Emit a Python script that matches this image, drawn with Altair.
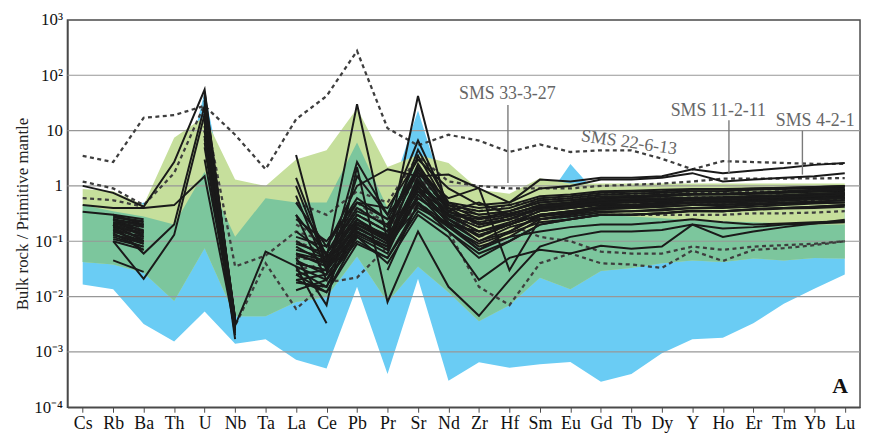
import altair as alt
import pandas as pd

elements = ["Cs", "Rb", "Ba", "Th", "U", "Nb", "Ta", "La", "Ce", "Pb", "Pr", "Sr", "Nd",
            "Zr", "Hf", "Sm", "Eu", "Gd", "Tb", "Dy", "Y", "Ho", "Er", "Tm", "Yb", "Lu"]

# Fields (lower / upper bounds, normalised to primitive mantle)
blue_lo = [0.0166, 0.0135, 0.0032, 0.00155, 0.0054, 0.0014, 0.0017, 0.00072, 0.0005, 0.015,
           0.0004, 0.021, 0.0003, 0.00065, 0.00052, 0.0006, 0.00066, 0.00029, 0.0004, 0.00095,
           0.0017, 0.0018, 0.0033, 0.0074, 0.0138, 0.025]
blue_hi = [0.35, 0.3, 0.5, 0.3, 50, 0.1, 0.4, 0.4, 0.4, 5, 0.5, 23, 0.4, 0.3, 0.3, 0.4, 2.5,
           0.6, 0.6, 0.6, 0.6, 0.6, 0.6, 0.6, 0.6, 0.6]
green_hi = [0.88, 0.8, 0.45, 7.4, 18, 1.3, 1.0, 3.0, 4.4, 25, 2.2, 3.6, 2.6, 0.85, 0.72, 1.38,
            1.1, 1.1, 1.1, 1.1, 1.1, 1.1, 1.1, 1.1, 1.1, 1.1]
mid_lo = [0.042, 0.038, 0.027, 0.0083, 0.075, 0.0044, 0.0044, 0.008, 0.0098, 0.053, 0.008,
          0.035, 0.012, 0.0036, 0.007, 0.022, 0.0135, 0.029, 0.033, 0.04, 0.045, 0.042, 0.049,
          0.045, 0.05, 0.049]
mid_hi = [0.45, 0.35, 0.28, 0.2, 1.8, 0.12, 0.6, 0.5, 0.5, 6.1, 0.4, 2.5, 0.4, 0.08, 0.12,
          0.2, 0.35, 0.3, 0.28, 0.26, 0.24, 0.23, 0.22, 0.21, 0.2, 0.2]

N = None
solid_samples = [
    [1.0, 0.75, 0.42, 2.7, 55, 0.003, N, 3.6, 0.03, 2.7, 0.3, 6.6, 0.45, 0.25, 0.35, 0.5, 0.55, 0.6, 0.62, 0.65, 0.7, 0.7, 0.72, 0.75, 0.78, 0.8],
    [N, 0.25, 0.2, N, 40, 0.004, N, 0.5, 0.08, 1.0, 2.0, 1.5, 1.6, 0.9, 0.5, 1.3, 1.2, 1.4, 1.4, 1.5, 2.0, 1.7, 1.9, 2.1, 2.4, 2.6],
    [N, 0.22, 0.15, N, 30, 0.003, N, 0.3, 0.06, 0.5, 0.4, 3.0, 0.9, 0.45, 0.5, 0.9, 1.0, 1.3, 1.3, 1.4, 1.7, 1.2, 1.3, 1.4, 1.5, 1.7],
    [0.45, 0.4, 0.4, 0.45, 1.5, 0.0025, N, 1.4, 0.05, 30, 0.1, 2.5, 0.35, 0.2, 0.25, 0.4, 0.45, 0.5, 0.5, 0.55, 0.6, 0.6, 0.62, 0.65, 0.7, 0.7],
    [0.34, 0.3, 0.2, N, 25, 0.003, N, 1.0, 0.04, 0.2, 0.1, 42, 0.3, 0.15, 0.2, 0.35, 0.4, 0.45, 0.45, 0.5, 0.55, 0.55, 0.58, 0.6, 0.62, 0.65],
    [N, 0.1, 0.021, 0.13, 20, 0.002, N, 0.67, 0.03, 0.15, 0.08, 1.5, 0.25, 0.1, 0.15, 0.3, 0.35, 0.4, 0.42, 0.45, 0.5, 0.5, 0.52, 0.55, 0.58, 0.6],
    [N, 0.045, 0.028, N, 15, 0.0017, N, 0.3, 0.02, 0.12, 0.06, 1.0, 0.2, 0.08, 0.12, 0.25, 0.3, 0.35, 0.35, 0.38, 0.4, 0.42, 0.45, 0.48, 0.5, 0.5],
    [N, 0.25, 0.12, N, 10, 0.003, 0.065, 0.035, 0.0033, N, 0.03, 0.5, 0.15, 0.06, 0.1, 0.2, 0.25, 0.3, 0.3, 0.32, 0.35, 0.35, 0.38, 0.4, 0.42, 0.45],
    [N, 0.2, 0.1, N, 35, 0.004, N, 0.05, 0.007, 2.2, 0.008, 0.15, 0.015, 0.0045, 0.02, 0.08, 0.12, 0.15, 0.15, 0.16, 0.2, 0.17, 0.18, 0.2, 0.21, 0.22],
    [N, 0.18, 0.14, N, 8, 0.003, N, 0.1, 0.05, 0.3, 0.15, 4.5, 0.5, 0.3, 0.35, 0.55, 0.6, 0.7, 0.72, 0.75, 0.8, 0.8, 0.85, 0.88, 0.9, 0.95],
    [N, 0.15, 0.1, N, 5, 0.0025, N, 0.08, 0.04, 0.25, 0.12, 0.8, 0.35, 0.5, 0.3, 0.45, 0.5, 0.6, 0.62, 0.65, 0.7, 0.7, 0.72, 0.75, 0.8, 0.85],
    [N, 0.12, 0.08, N, 45, 0.0035, N, 0.04, 0.03, 0.15, 0.07, 0.6, 0.25, 0.12, 0.2, 0.3, 0.35, 0.42, 0.45, 0.48, 0.5, 0.52, 0.55, 0.58, 0.6, 0.62],
    [N, 0.3, 0.25, N, 18, 0.004, N, 0.02, 0.025, 1.5, 0.3, 1.7, 0.6, 0.92, 0.03, 0.25, 0.3, 0.4, 0.42, 0.45, 0.5, 0.5, 0.52, 0.55, 0.6, 0.62],
    [N, 0.2, 0.06, 0.2, 28, 0.003, N, 0.013, 0.02, 0.1, 0.05, 0.35, 0.15, 0.05, 0.1, 0.2, 0.25, 0.3, 0.3, 0.32, 0.35, 0.35, 0.38, 0.4, 0.42, 0.45],
    [N, 0.25, 0.15, N, 22, 0.0035, N, 0.15, 0.06, 0.35, 0.2, 2.0, 0.4, 0.2, 0.25, 0.4, 0.45, 0.55, 0.55, 0.58, 0.6, 0.62, 0.65, 0.68, 0.72, 0.75],
    [N, 0.16, 0.12, N, 12, 0.003, N, 0.06, 0.035, 0.18, 0.09, 1.2, 0.28, 0.15, 0.22, 0.35, 0.4, 0.48, 0.5, 0.52, 0.55, 0.55, 0.6, 0.62, 0.65, 0.68],
    [N, 0.13, 0.09, N, 6, 0.0028, N, 0.25, 0.1, 0.5, 0.25, 0.5, 0.2, 0.07, 0.15, 0.28, 0.32, 0.38, 0.4, 0.42, 0.45, 0.46, 0.48, 0.5, 0.52, 0.55],
    [N, 0.22, 0.18, N, 3, 0.003, N, 0.03, 0.015, 0.2, 0.12, 0.9, 0.45, 0.35, 0.4, 0.6, 0.65, 0.75, 0.78, 0.8, 0.85, 0.85, 0.9, 0.92, 0.95, 1.0],
    [N, 0.14, 0.07, N, 10, 0.0022, N, 0.02, 0.012, 0.12, 0.04, 0.3, 0.12, 0.02, 0.05, 0.07, 0.06, 0.083, 0.073, 0.08, 0.2, 0.12, 0.15, 0.18, 0.21, 0.245],
    [N, 0.19, 0.13, N, 14, 0.003, N, 0.045, 0.025, 0.13, 0.07, 0.7, 0.18, 0.07, 0.12, 0.15, 0.18, 0.2, 0.2, 0.22, 0.25, 0.22, 0.2, 0.21, 0.22, 0.23],
    [N, 0.1, 0.07, N, 16, 0.0032, N, 0.07, 0.05, 0.25, 0.1, 1.1, 0.3, 0.25, 0.3, 0.45, 0.5, 0.6, 0.65, 0.7, 0.72, 0.72, 0.75, 0.78, 0.8, 0.85],
    [N, 0.27, 0.22, N, 20, 0.003, N, 0.025, 0.03, 0.22, 0.13, 0.8, 0.22, 0.1, 0.18, 0.25, 0.28, 0.33, 0.35, 0.36, 0.4, 0.4, 0.42, 0.45, 0.48, 0.5],
    [N, 0.17, 0.11, N, 25, 0.0028, N, 0.04, 0.03, 0.14, 0.08, 0.9, 0.25, 0.13, 0.2, 0.3, 0.35, 0.42, 0.44, 0.46, 0.5, 0.5, 0.52, 0.55, 0.57, 0.6],
    [N, 0.21, 0.16, N, 32, 0.0033, N, 0.06, 0.045, 0.3, 0.15, 1.8, 0.35, 0.22, 0.28, 0.4, 0.45, 0.52, 0.54, 0.56, 0.6, 0.6, 0.62, 0.65, 0.68, 0.7],
    [N, 0.24, 0.19, N, 42, 0.0036, N, 0.035, 0.02, 0.25, 0.1, 0.6, 0.3, 0.18, 0.25, 0.38, 0.42, 0.5, 0.52, 0.55, 0.58, 0.58, 0.6, 0.63, 0.66, 0.7],
    [N, 0.11, 0.08, N, 12, 0.0026, N, 0.09, 0.06, 0.4, 0.18, 3.5, 0.4, 0.3, 0.35, 0.5, 0.55, 0.65, 0.66, 0.68, 0.7, 0.72, 0.75, 0.8, 0.85, 0.9],
    [N, 0.16, 0.09, N, 18, 0.0031, N, 0.025, 0.012, 0.09, 0.05, 0.45, 0.18, 0.09, 0.14, 0.22, 0.25, 0.3, 0.3, 0.32, 0.36, 0.35, 0.37, 0.39, 0.4, 0.42],
    [N, 0.28, 0.23, N, 50, 0.0038, N, 0.12, 0.08, 0.6, 0.25, 2.2, 0.5, 0.4, 0.45, 0.65, 0.7, 0.8, 0.82, 0.85, 0.88, 0.88, 0.9, 0.93, 0.96, 1.0],
    [N, 0.13, 0.1, N, 7, 0.0024, N, 0.018, 0.015, 0.17, 0.09, 0.4, 0.2, 0.15, 0.2, 0.3, 0.33, 0.38, 0.4, 0.42, 0.45, 0.45, 0.47, 0.5, 0.52, 0.55],
    [N, 0.2, 0.14, N, 27, 0.003, N, 0.055, 0.04, 0.2, 0.11, 1.3, 0.33, 0.27, 0.32, 0.42, 0.48, 0.55, 0.58, 0.6, 0.62, 0.63, 0.66, 0.68, 0.72, 0.75],
]
dashed_samples = [
    [3.5, 2.7, 17, 19, 28, 8.4, 2.0, 16, 42, 275, 11, 5.4, 8.4, 6.6, 4.1, 5.6, 4.1, 4.4, 4.4, 3.1, 2.0, 2.8, 2.7, 2.6, 2.5, 2.5],
    [1.2, 0.9, 0.45, 1.7, 30, N, N, 0.5, 0.3, 0.8, 0.5, 3.5, 1.2, 1.0, 0.9, 0.9, 0.9, 1.0, 1.05, 1.1, 1.2, 1.35, 1.35, 1.36, 1.37, 1.38],
    [0.6, 0.55, 0.42, N, 25, 0.035, 0.055, 0.15, 0.1, 0.4, 0.2, 1.5, 0.4, 0.2, 0.3, 0.45, 0.5, 0.55, 0.55, 0.6, 0.62, 0.62, 0.65, 0.68, 0.7, 0.72],
    [N, 0.2, 0.15, N, 20, 0.003, 0.04, 0.006, 0.018, 0.022, 0.08, 0.5, 0.15, 0.015, 0.007, 0.04, 0.06, 0.04, 0.038, 0.033, 0.068, 0.044, 0.07, 0.075, 0.085, 0.1],
    [N, 0.2, 0.18, N, 15, 0.003, N, 0.1, 0.06, 0.3, 0.15, 1.0, 0.3, 0.12, 0.2, 0.12, 0.1, 0.065, 0.06, 0.06, 0.08, 0.07, 0.08, 0.085, 0.09, 0.1],
    [N, 0.25, 0.2, N, 10, 0.004, N, 0.03, 0.04, 0.15, 0.08, 0.7, 0.3, 0.2, 0.25, 0.35, 0.4, 0.45, 0.46, 0.48, 0.5, 0.5, 0.52, 0.55, 0.56, 0.58],
    [N, 0.18, 0.12, N, 35, 0.0035, N, 0.05, 0.045, 0.5, 0.2, 2.0, 0.45, 0.35, 0.45, 0.55, 0.6, 0.7, 0.72, 0.74, 0.76, 0.76, 0.78, 0.8, 0.82, 0.85],
    [N, 0.15, 0.1, N, 8, 0.003, N, 0.2, 0.1, 0.2, 0.12, 0.5, 0.2, 0.25, 0.25, 0.25, 0.28, 0.3, 0.3, 0.3, 0.3, 0.3, 0.32, 0.32, 0.33, 0.35],
]

labels_text = ["SMS 33-3-27", "SMS 11-2-11", "SMS 4-2-1"]
labels_x = [13.93, 20.85, 24.03]
labels_y = [37.0, 18.0, 12.1]
tilted_text = ["SMS 22-6-13"]
tilted_x = [17.92]
tilted_y = [6.0]
leader_x = [13.95, 21.2, 23.61]
leader_top = [29.0, 15.4, 9.9]
leader_bottom = [1.13, 1.69, 1.6]
grid_values = [1e-3, 1e-2, 1e-1, 1, 10, 100]
y_ticks = [1e-4, 1e-3, 1e-2, 1e-1, 1, 10, 100, 1000]
y_tick_labels = ["10⁻⁴", "10⁻³", "10⁻²", "10⁻¹", "1", "10", "10²", "10³"]


def segments(samples, prefix):
    rows = []
    for s, vals in enumerate(samples):
        run = 0
        prev = False
        for i, v in enumerate(vals):
            if v is None:
                if prev:
                    run += 1
                prev = False
                continue
            rows.append({"i": i, "v": v, "seg": f"{prefix}{s}_{run}"})
            prev = True
    df = pd.DataFrame(rows)
    counts = df.groupby("seg")["i"].transform("count")
    return df[counts > 1]


bands = pd.DataFrame({"i": list(range(len(elements))), "blue_lo": blue_lo, "blue_hi": blue_hi,
                      "green_hi": green_hi, "mid_lo": mid_lo, "mid_hi": mid_hi})

names_js = "[" + ",".join(f"'{e}'" for e in elements) + "]"
ylab_js = "[" + ",".join(f"'{t}'" for t in y_tick_labels) + "]"

xscale = alt.Scale(domain=[-0.5, len(elements) - 0.5], nice=False, zero=False)
yscale = alt.Scale(type="log", domain=[1e-4, 1e3], nice=False)

X_axis = alt.Axis(values=list(range(len(elements))), labelExpr=f"{names_js}[datum.value]",
                  title=None, grid=False, tickSize=5, tickColor="#4a4a4a", labelPadding=2,
                  labelFontSize=18, labelFont="Liberation Serif", labelColor="#111",
                  domainColor="#4a4a4a", domainWidth=1.5)
Y_axis = alt.Axis(values=y_ticks, labelExpr=f"{ylab_js}[round(log(datum.value)/LN10)+4]",
                  title="Bulk rock / Primitive mantle", grid=False, ticks=False,
                  labelPadding=5, titlePadding=2, labelFontSize=17, labelFont="Liberation Serif",
                  labelColor="#111", titleFont="Liberation Serif", titleFontSize=17,
                  titleFontWeight="normal", titleColor="#222",
                  domainColor="#4a4a4a", domainWidth=1.5)


def X(field):
    return alt.X(field, scale=xscale, axis=X_axis)


def Y(field):
    return alt.Y(field, scale=yscale, axis=Y_axis)


base = alt.Chart(bands)
blue = base.mark_area(color="#6accf4", opacity=1).encode(x=X("i:Q"), y=Y("blue_lo:Q"), y2="blue_hi:Q")
lgreen = base.mark_area(color="#c6df9c", opacity=1).encode(x=X("i:Q"), y=Y("mid_lo:Q"), y2="green_hi:Q")
mgreen = base.mark_area(color="#7cc69d", opacity=1).encode(x=X("i:Q"), y=Y("mid_lo:Q"), y2="mid_hi:Q")

grid = alt.Chart(pd.DataFrame({"g": grid_values})).mark_rule(
    color="#979797", strokeWidth=1.2).encode(y=Y("g:Q"))

dashed = alt.Chart(segments(dashed_samples, "d")).mark_line(
    color="#3e3e3e", strokeWidth=2.3, strokeDash=[4, 3.5]).encode(
    x=X("i:Q"), y=Y("v:Q"), detail="seg:N", order="i:Q")
solid = alt.Chart(segments(solid_samples, "s")).mark_line(
    color="#1a1a1a", strokeWidth=2.0).encode(
    x=X("i:Q"), y=Y("v:Q"), detail="seg:N", order="i:Q")

leaders = alt.Chart(pd.DataFrame({"x": leader_x, "t": leader_top, "b": leader_bottom})).mark_rule(
    color="#7a7a7a", strokeWidth=1.4).encode(x=X("x:Q"), y=Y("t:Q"), y2="b:Q")

texts = alt.Chart(pd.DataFrame({"x": labels_x, "y": labels_y, "t": labels_text})).mark_text(
    font="Liberation Serif", fontSize=18, color="#666666", baseline="alphabetic", align="center").encode(
    x=X("x:Q"), y=Y("y:Q"), text="t:N")
tilted = alt.Chart(pd.DataFrame({"x": tilted_x, "y": tilted_y, "t": tilted_text})).mark_text(
    font="Liberation Serif", fontSize=18, color="#666666", baseline="middle", align="center", angle=8).encode(
    x=X("x:Q"), y=Y("y:Q"), text="t:N")
panel = alt.Chart(pd.DataFrame({"x": [24.85], "y": [2.44e-4], "t": ["A"]})).mark_text(
    font="Liberation Serif", fontSize=22, fontWeight="bold", color="#111", baseline="middle", align="center").encode(
    x=X("x:Q"), y=Y("y:Q"), text="t:N")

chart = alt.layer(blue, lgreen, mgreen, grid, dashed, solid, leaders, texts, tilted, panel).properties(
    width=800, height=391,
    autosize=alt.AutoSizeParams(type="none"),
    padding={"left": 60, "top": 10, "right": 2, "bottom": 26},
).configure_view(stroke="#4a4a4a", strokeWidth=1.5)

chart.save("out.html", embed_options={"renderer": "svg", "actions": False})
